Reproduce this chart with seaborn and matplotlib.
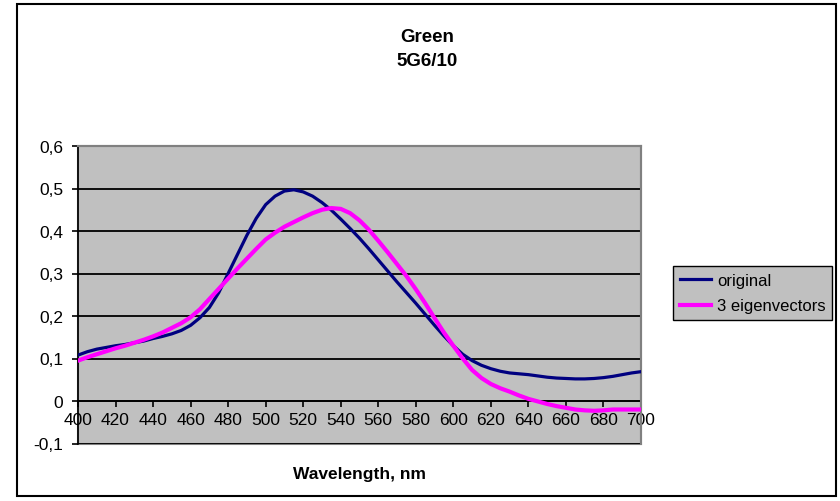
import numpy as np
import pandas as pd
import matplotlib
matplotlib.use("Agg")
import matplotlib.pyplot as plt
from matplotlib.patches import Rectangle
from matplotlib.lines import Line2D
from matplotlib.ticker import FuncFormatter, FixedLocator
import seaborn as sns

# ---- data ----
wavelength = list(range(400, 701, 5))
original = [0.108, 0.116, 0.122, 0.126, 0.130, 0.133, 0.137, 0.141, 0.147, 0.152,
            0.158, 0.166, 0.178, 0.196, 0.220, 0.255, 0.300, 0.345, 0.390, 0.430,
            0.462, 0.482, 0.494, 0.497, 0.492, 0.482, 0.467, 0.449, 0.428, 0.406,
            0.383, 0.358, 0.332, 0.306, 0.280, 0.255, 0.230, 0.204, 0.178, 0.153,
            0.130, 0.110, 0.095, 0.084, 0.076, 0.070, 0.066, 0.064, 0.062, 0.059,
            0.056, 0.054, 0.053, 0.052, 0.052, 0.053, 0.055, 0.058, 0.062, 0.066, 0.069]
eigen3 = [0.095, 0.103, 0.110, 0.117, 0.124, 0.130, 0.137, 0.144, 0.152, 0.161,
          0.172, 0.183, 0.197, 0.216, 0.240, 0.264, 0.288, 0.312, 0.335, 0.358,
          0.380, 0.396, 0.410, 0.421, 0.432, 0.442, 0.450, 0.454, 0.452, 0.442,
          0.425, 0.403, 0.377, 0.350, 0.322, 0.294, 0.263, 0.230, 0.195, 0.161,
          0.130, 0.100, 0.073, 0.054, 0.040, 0.030, 0.022, 0.013, 0.005, -0.001,
          -0.007, -0.012, -0.016, -0.020, -0.022, -0.023, -0.022, -0.020, -0.020, -0.020, -0.020]
series_names = ["original", "3 eigenvectors"]
series_colors = ["#000080", "#FF00FF"]
x_ticks = list(range(400, 701, 20))
y_ticks = [-0.1, 0.0, 0.1, 0.2, 0.3, 0.4, 0.5, 0.6]
title_lines = ["Green", "5G6/10"]
x_label = "Wavelength, nm"

df = pd.DataFrame({
    "wl": wavelength * 2,
    "val": original + eigen3,
    "series": [series_names[0]] * len(wavelength) + [series_names[1]] * len(wavelength),
})

plt.rcParams["font.family"] = ["Liberation Sans", "DejaVu Sans"]

fig = plt.figure(figsize=(8.4, 5.02), dpi=100)
ax = fig.add_axes([78 / 840, 1 - 444.5 / 502, (641 - 78) / 840, (444.5 - 147) / 502])
ax.set_facecolor("#C0C0C0")

sns.lineplot(data=df, x="wl", y="val", hue="series", palette=dict(zip(series_names, series_colors)),
             ax=ax, legend=False, sort=False)
lines = ax.get_lines()
for line, lw, z in zip(lines, [2.3, 3.0], [3, 4]):
    line.set_linewidth(lw)
    line.set_zorder(z)
    line.set_solid_joinstyle("round")

ax.set_xlim(400, 700)
ax.set_ylim(-0.1, 0.6)
ax.xaxis.set_major_locator(FixedLocator(x_ticks))
ax.yaxis.set_major_locator(FixedLocator(y_ticks))

def yfmt(v, pos):
    if abs(v) < 1e-9:
        return "0"
    return f"{v:.1f}".replace(".", ",")

ax.yaxis.set_major_formatter(FuncFormatter(yfmt))
ax.yaxis.grid(True, color="black", linewidth=1.3)
ax.set_axisbelow(True)

for s in ["top", "right"]:
    ax.spines[s].set_color("#808080")
    ax.spines[s].set_linewidth(1.5)
ax.spines["left"].set_color("black")
ax.spines["left"].set_linewidth(1.2)
ax.spines["bottom"].set_position(("data", 0))
ax.spines["bottom"].set_color("black")
ax.spines["bottom"].set_linewidth(1.2)
ax.spines["bottom"].set_zorder(2)
ax.add_patch(Rectangle((0, 0), 1, 1, transform=ax.transAxes, fill=False,
                       edgecolor="#808080", linewidth=1.5, clip_on=False, zorder=0.5))

ax.tick_params(axis="x", direction="out", length=4.5, width=1.2, pad=3.5, labelsize=12.5, colors="black")
ax.tick_params(axis="y", direction="out", length=4.5, width=1.2, pad=6, labelsize=12.5, colors="black")
ax.set_xlabel("")
ax.set_ylabel("")

fig.text(427 / 840, 1 - 37 / 502, title_lines[0], ha="center", va="center", fontsize=13.5, fontweight="bold")
fig.text(427 / 840, 1 - 62 / 502, title_lines[1], ha="center", va="center", fontsize=13.5, fontweight="bold")
fig.text(359.5 / 840, 1 - 475 / 502, x_label, ha="center", va="center", fontsize=12.5, fontweight="bold")

# outer chart frame
fig.add_artist(Rectangle((17 / 840, 1 - 497 / 502), (836 - 17) / 840, (497 - 5) / 502,
                         transform=fig.transFigure, fill=False, edgecolor="black", linewidth=1.5))

handles = [Line2D([], [], color=c, linewidth=lw) for c, lw in zip(series_colors, [2.3, 3.0])]
leg = fig.legend(handles, series_names, loc="upper left", bbox_to_anchor=(673 / 840, 1 - 267 / 502),
                 frameon=True, fancybox=False, edgecolor="black", facecolor="#C0C0C0", framealpha=1,
                 fontsize=12, handlelength=1.9, handletextpad=0.35, labelspacing=0.65,
                 borderpad=0.4, borderaxespad=0)
leg.get_frame().set_linewidth(1.0)

fig.savefig("out.png", dpi=100)
